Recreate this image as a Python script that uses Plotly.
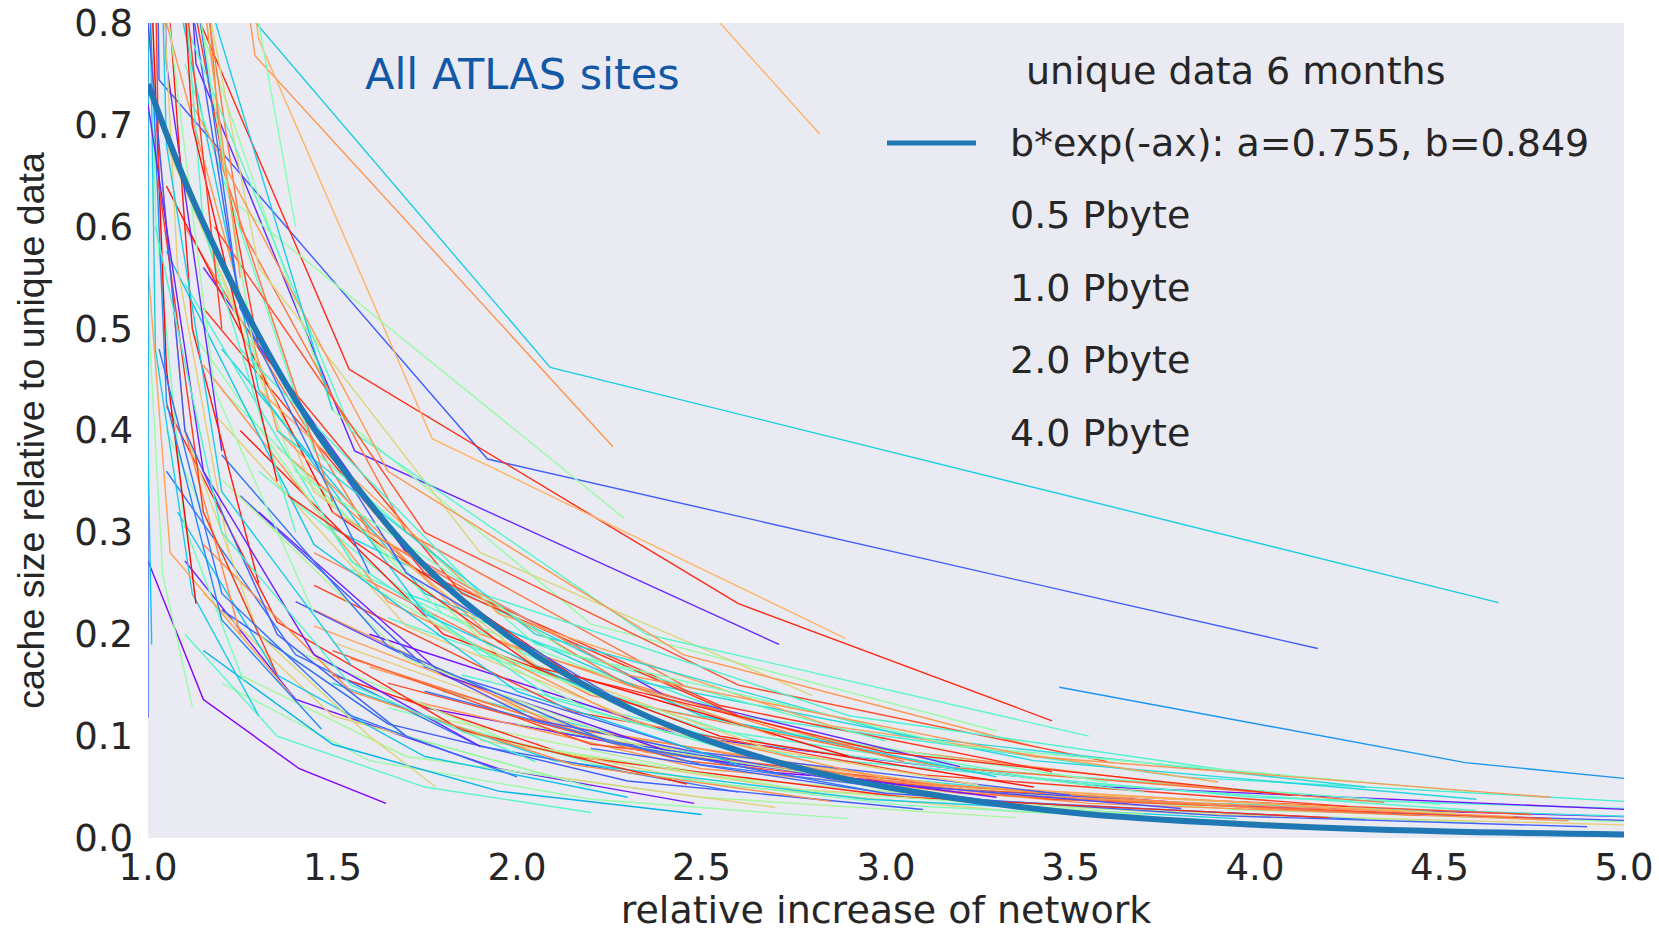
import math
import plotly.graph_objects as go

# ---------------- data ----------------
cache_pb = [0.5, 1.0, 2.0, 4.0]

# cache(0.5 PB) relative to unique data of each site
site_ratio05 = [
    0.231, 0.186, 0.384, 0.691, 0.115, 0.037, 0.19, 0.196, 0.314,
    0.016, 0.018, 0.014, 0.013, 0.02, 0.012, 0.017, 0.019, 0.021, 0.015,
    0.023, 0.025, 0.011, 0.022, 0.024, 0.026, 0.018, 0.02, 0.027, 0.03,
    0.013, 0.016, 0.019, 0.028, 0.031, 0.033, 0.035, 0.029, 0.023, 0.038,
    0.042, 0.045, 0.04, 0.048, 0.05, 0.044, 0.055, 0.052, 0.06, 0.058,
    0.065, 0.047, 0.07, 0.062, 0.068, 0.075, 0.08, 0.072, 0.085, 0.09,
    0.034, 0.019, 0.02, 0.045, 0.053, 0.03, 0.04, 0.025, 0.05, 0.028,
    0.036, 0.023,
    0.1, 0.11, 0.095, 0.12, 0.13, 0.105, 0.15, 0.14,
    0.1, 0.09, 0.075, 0.06, 0.055, 0.05, 0.045, 0.042, 0.04,
    0.034, 0.12, 0.129, 0.153, 0.14, 0.05, 0.23, 0.38, 0.107, 0.118,
    0.19, 0.2, 0.25, 0.28, 0.3, 0.17, 0.16, 0.22, 0.26, 0.33, 0.35,
    0.45, 0.5, 0.42, 0.55, 0.6, 0.1, 0.09, 0.075, 0.06,
]
# relative increase of network for cache = 0.5, 1, 2, 4 PB
site_net_05 = [
    4.66, 4.17, 2.26, 2.82, 3.45, 5.6, 2.71, 2.89, 2.29,
    5.5, 5.3, 5.2, 5.4, 5.8, 5.1, 4.85, 4.8, 4.7, 4.6,
    4.75, 5.2, 4.9, 4.45, 4.55, 4.4, 4.3, 4.2, 4.6, 5.3,
    4.15, 3.9, 3.95, 4.05, 4.25, 4.5, 4.35, 3.8, 3.7, 4.6,
    3.5, 3.7, 3.3, 3.9, 3.4, 3.15, 3.6, 3.25, 3.3, 3.0,
    3.45, 2.95, 3.2, 2.85, 2.75, 3.05, 2.9, 2.6, 2.7, 2.55,
    2.48, 2.9, 3.35, 2.6, 2.46, 2.7, 2.3, 2.2, 2.2, 3.1,
    2.85, 2.5,
    2.7, 2.4, 3.0, 2.6, 2.3, 3.3, 2.45, 2.8,
    3.55, 3.4, 3.6, 4.05, 3.9, 4.3, 4.6, 4.1, 4.8,
    1.645, 1.30, 1.12, 1.26, 1.39, 1.78, 1.13, 1.2, 1.47, 1.0,
    1.01, 1.25, 1.3, 1.22, 1.4, 1.55, 1.35, 1.45, 1.6, 1.5, 1.35,
    1.3, 1.2, 1.5, 1.25, 1.4, 1.7, 1.9, 2.05, 2.0,
]
site_net_1 = [
    2.09, 1.92, 1.29, 1.11, 2.6, 4.57, 1.56, 1.77, 1.22,
    3.9, 3.7, 3.95, 4.2, 4.0, 3.8, 3.55, 3.45, 3.35, 3.5,
    3.3, 3.6, 3.9, 3.2, 3.25, 3.15, 3.3, 3.05, 3.5, 3.8,
    3.35, 3.05, 2.95, 3.0, 3.1, 3.3, 3.15, 2.85, 2.8, 3.4,
    2.5, 2.7, 2.45, 2.8, 2.55, 2.35, 2.6, 2.4, 2.5, 2.3,
    2.55, 2.25, 2.4, 2.2, 2.1, 2.3, 2.15, 2.0, 2.05, 1.95,
    1.95, 2.2, 2.5, 1.9, 1.85, 2.1, 1.75, 1.75, 1.7, 2.3,
    2.15, 1.95,
    1.9, 1.75, 2.05, 1.85, 1.7, 2.2, 1.7, 1.9,
    2.35, 2.45, 2.6, 2.9, 2.85, 3.05, 3.2, 3.0, 3.4,
    1.41, 1.12, 1.04, 1.1, 1.06, 1.6, 1.05, 1.05, 1.2, 1.0,
    1.0, 1.1, 1.12, 1.08, 1.15, 1.2, 1.15, 1.18, 1.25, 1.2, 1.12,
    1.1, 1.05, 1.15, 1.05, 1.1, 1.35, 1.45, 1.55, 1.55,
]
site_net_2 = [
    1.0, 1.03, 1.0, 1.0, 1.545, 3.47, 1.13, 1.3, 1.0,
    2.7, 2.6, 2.9, 3.0, 2.75, 2.75, 2.5, 2.45, 2.35, 2.55,
    2.2, 2.45, 3.0, 2.3, 2.25, 2.2, 2.5, 2.15, 2.5, 2.6,
    2.55, 2.3, 2.1, 2.1, 2.15, 2.3, 2.2, 2.05, 2.0, 2.35,
    1.75, 1.9, 1.8, 1.95, 1.8, 1.7, 1.8, 1.7, 1.75, 1.65,
    1.75, 1.65, 1.7, 1.6, 1.55, 1.6, 1.5, 1.45, 1.45, 1.4,
    1.4, 1.6, 1.7, 1.4, 1.35, 1.5, 1.35, 1.35, 1.3, 1.65,
    1.55, 1.5,
    1.35, 1.3, 1.45, 1.3, 1.25, 1.5, 1.25, 1.3,
    1.55, 1.65, 1.75, 1.9, 1.95, 2.05, 2.15, 2.05, 2.3,
    1.15, 1.02, 1.0, 1.02, 1.0, 1.3, 1.0, 1.0, 1.05, 1.0,
    1.0, 1.0, 1.02, 1.0, 1.02, 1.05, 1.03, 1.03, 1.05, 1.05, 1.0,
    1.0, 1.0, 1.0, 1.0, 1.0, 1.1, 1.15, 1.2, 1.2,
]
site_net_4 = [
    1.0, 1.0, 1.0, 1.0, 1.0, None, 1.0, 1.0, 1.0,
    1.75, 1.8, 2.0, 2.1, 1.85, 1.9, 1.7, 1.65, 1.6, 1.75,
    1.5, 1.6, 2.2, 1.55, 1.5, 1.45, 1.75, 1.5, 1.65, 1.7,
    1.85, 1.65, 1.5, 1.45, 1.45, 1.55, 1.45, 1.4, 1.4, 1.5,
    1.25, 1.3, 1.3, 1.35, 1.25, 1.2, 1.2, 1.18, 1.2, 1.15,
    1.15, 1.2, 1.15, 1.12, 1.1, 1.1, 1.05, 1.05, 1.05, 1.02,
    1.1, 1.2, 1.25, 1.05, 1.05, 1.15, 1.08, 1.1, 1.05, 1.2,
    1.15, 1.15,
    1.05, 1.05, 1.1, 1.05, 1.02, 1.1, 1.0, 1.0,
    1.1, 1.12, 1.18, 1.25, 1.3, 1.35, 1.4, 1.38, 1.5,
    1.0, 1.0, 1.0, 1.0, 1.0, 1.1, 1.0, 1.0, 1.0, 1.0,
    1.0, 1.0, 1.0, 1.0, 1.0, 1.0, 1.0, 1.0, 1.0, 1.0, 1.0,
    1.0, 1.0, 1.0, 1.0, 1.0, 1.0, 1.0, 1.02, 1.03,
]
# position of each site's line on the rainbow colour map (style)
site_color_t = [
    0.3, 0.12, 0.8, 0.75, 0.95, 0.2, 0.05, 0.75, 0.55,
    0.0, 0.35, 0.55, 0.1, 0.4, 0.7, 0.8, 0.9, 0.8, 0.6,
    0.9, 0.02, 0.12, 0.85, 0.7, 0.78, 0.15, 0.95, 0.42, 0.38,
    0.68, 0.5, 0.3, 0.82, 0.92, 0.45, 0.85, 0.1, 0.58, 0.32,
    0.12, 0.45, 0.03, 0.82, 0.97, 0.6, 0.5, 0.7, 0.3, 0.8,
    0.93, 0.15, 0.05, 0.55, 0.4, 0.85, 0.98, 0.28, 0.7, 0.6,
    0.03, 0.55, 0.58, 0.15, 0.95, 0.7, 0.28, 0.42, 0.52, 0.12,
    0.82, 0.25,
    0.8, 0.3, 0.45, 0.93, 0.12, 0.55, 0.85, 0.68,
    0.42, 0.8, 0.9, 0.4, 0.78, 0.33, 0.5, 0.95, 0.8,
    0.0, 0.3, 0.55, 0.48, 0.78, 0.68, 1.0, 0.05, 0.18, 0.12,
    0.28, 0.82, 0.97, 0.7, 0.42, 0.3, 0.93, 0.55, 0.15, 0.85, 0.98,
    0.52, 0.92, 0.3, 0.8, 0.5, 0.12, 0.04, 0.4, 0.15,
]

# fit curve
fit_x = [1.0, 1.1, 1.2, 1.3, 1.4, 1.5, 1.75, 2.0, 2.25, 2.5, 2.75, 3.0,
         3.5, 4.0, 4.5, 5.0]
fit_y = [0.74, 0.645, 0.565, 0.493, 0.43, 0.376, 0.267, 0.192, 0.137,
         0.098, 0.07, 0.05, 0.025, 0.013, 0.0066, 0.0035]
fit_label = "b*exp(-ax): a=0.755, b=0.849"
legend_title = "unique data 6 months"
cache_labels = ["0.5 Pbyte", "1.0 Pbyte", "2.0 Pbyte", "4.0 Pbyte"]

x_ticks = [1.0, 1.5, 2.0, 2.5, 3.0, 3.5, 4.0, 4.5, 5.0]
y_ticks = [0.0, 0.1, 0.2, 0.3, 0.4, 0.5, 0.6, 0.7, 0.8]


# ---------------- style ----------------
def rainbow(t):
    r = min(1.0, abs(2 * t - 0.5))
    g = math.sin(math.pi * t)
    b = math.cos(math.pi * t / 2)
    return "rgb(%d,%d,%d)" % (round(r * 255), round(g * 255), round(max(b, 0) * 255))


TXT = "#262626"
FONT_H = "DejaVu Sans"

fig = go.Figure()

for i in range(len(site_ratio05)):
    nets = [site_net_05[i], site_net_1[i], site_net_2[i], site_net_4[i]]
    xs, ys = [], []
    for c, n in zip(cache_pb, nets):
        if n is None:
            continue
        xs.append(n)
        ys.append(site_ratio05[i] * c / cache_pb[0])
    fig.add_trace(go.Scatter(
        x=xs, y=ys, mode="lines",
        line=dict(color=rainbow(site_color_t[i]), width=1.4),
        showlegend=False, hoverinfo="skip",
    ))

fig.add_trace(go.Scatter(
    x=fit_x, y=fit_y, mode="lines", line_shape="spline",
    line=dict(color="#1f77b4", width=6), name=fit_label, showlegend=False,
))

# ---- layout geometry (pixels) ----
W, H = 1659, 932
L, R, T, B = 148, 35, 23, 94
PW, PH = W - L - R, H - T - B


def px(xp):
    return (xp - L) / PW


def py(yp):
    return (H - B - yp) / PH


annotations = [
    dict(text="All ATLAS sites", x=px(522), y=py(74), xref="paper", yref="paper",
         xanchor="center", yanchor="middle", showarrow=False,
         font=dict(family=FONT_H, size=43, color="#1158a6")),
    dict(text=legend_title, x=px(1024), y=py(71), xref="paper", yref="paper",
         xanchor="left", yanchor="middle", showarrow=False,
         font=dict(family=FONT_H, size=38, color=TXT)),
]
entry_labels = [fit_label] + cache_labels
entry_y = [143, 215, 288, 360, 433]
for lab, yy in zip(entry_labels, entry_y):
    annotations.append(dict(text=lab, x=px(1008), y=py(yy), xref="paper", yref="paper",
                            xanchor="left", yanchor="middle", showarrow=False,
                            font=dict(family=FONT_H, size=38, color=TXT)))

shapes = [dict(type="line", xref="paper", yref="paper", x0=px(887), x1=px(976),
               y0=py(143), y1=py(143), line=dict(color="#1f77b4", width=5))]

fig.update_layout(
    width=W, height=H,
    margin=dict(l=L, r=R, t=T, b=B, autoexpand=False),
    plot_bgcolor="#EAEAF2", paper_bgcolor="white",
    showlegend=False,
    annotations=annotations, shapes=shapes,
    xaxis=dict(
        range=[1.0, 5.0], tickvals=x_ticks, tickformat=".1f",
        showgrid=False, zeroline=False, showline=False, ticks="",
        ticklabelstandoff=4, automargin=False,
        tickfont=dict(family=FONT_H, size=37, color=TXT),
        title=dict(text="relative increase of network", standoff=25,
                   font=dict(family=FONT_H, size=38, color=TXT)),
    ),
    yaxis=dict(
        range=[0.0, 0.8], tickvals=y_ticks, tickformat=".1f",
        showgrid=False, zeroline=False, showline=False, ticks="",
        ticklabelstandoff=14, automargin=False,
        tickfont=dict(family=FONT_H, size=37, color=TXT),
        title=dict(text="cache size relative to unique data", standoff=18,
                   font=dict(family="Liberation Sans", size=37.5, color=TXT)),
    ),
)

fig.write_html("out.html")
